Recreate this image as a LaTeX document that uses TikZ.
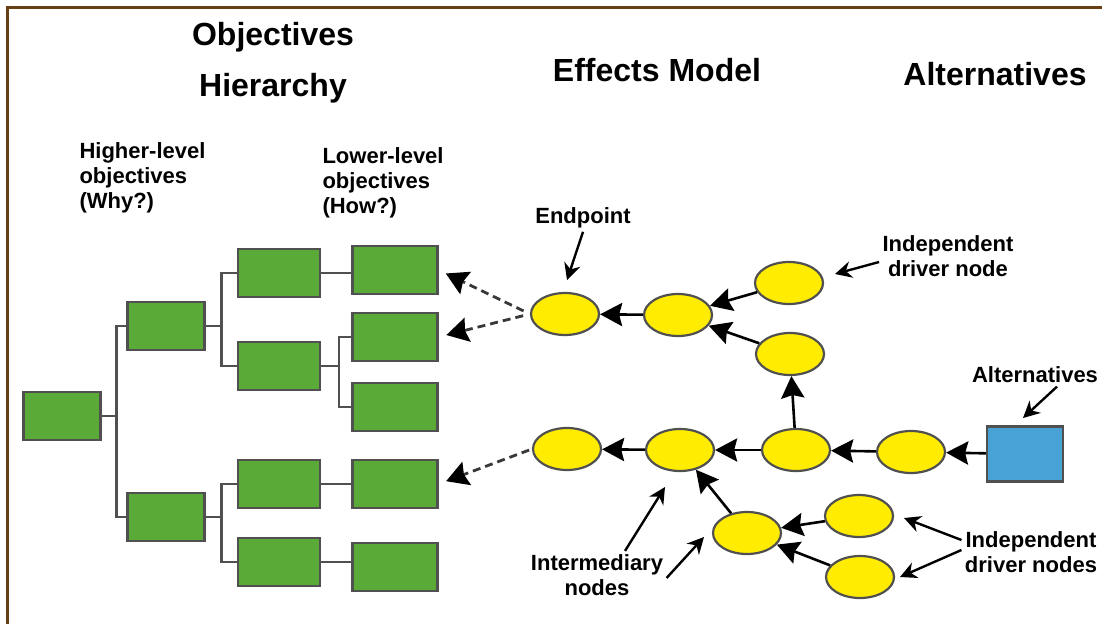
\documentclass[tikz,border=0pt]{standalone}
\usepackage{fontspec}
\setmainfont{Liberation Sans}
\usetikzlibrary{arrows.meta,positioning,shapes.geometric}
\definecolor{boxgreen}{RGB}{90,170,56}
\definecolor{nodeyellow}{RGB}{255,236,0}
\definecolor{altblue}{RGB}{72,162,214}
\definecolor{framebrown}{RGB}{104,64,20}
\definecolor{linegray}{RGB}{80,80,80}
\begin{document}
\begin{tikzpicture}[x=1pt,y=-1pt,
    objbox/.style={draw=linegray,line width=2.2pt,fill=boxgreen,inner sep=0pt,
      minimum width=82pt,minimum height=48pt},
    effnode/.style={ellipse,draw=linegray,line width=2.2pt,fill=nodeyellow,inner sep=0pt,
      minimum width=68pt,minimum height=42pt},
    tree/.style={draw=linegray,line width=2.4pt},
    infl/.style={line width=2.6pt,-{Stealth[scale length=1.5,scale width=2.1,inset=2pt]}},
    link/.style={draw=linegray!70!black,line width=2.8pt,dash pattern=on 8pt off 5pt,
      -{Stealth[scale length=1.4,scale width=2.1,inset=2pt,black]}},
    note/.style={line width=2.4pt,-{Stealth[scale length=1.2,scale width=1.6]}},
    heading/.style={font=\fontsize{32}{51}\selectfont\bfseries,align=center},
    small/.style={font=\fontsize{22}{25}\selectfont\bfseries}]
  \useasboundingbox (0,0) rectangle (1102,624);
  \draw[framebrown,line width=3pt] (7.5,624) -- (7.5,7.5) -- (1102,7.5);

  % headings
  \node[heading] (hObj) at (273,63) {Objectives\\Hierarchy};
  \node[heading] (hEff) at (657,70) {Effects Model};
  \node[heading] (hAlt) at (995,74) {Alternatives};
  \node[small,align=left,anchor=west] (hiLbl) at (76,178) {Higher-level\\objectives\\(Why?)};
  \node[small,align=left,anchor=west] (loLbl) at (319,183) {Lower-level\\objectives\\(How?)};

  % objectives hierarchy
  \node[objbox,minimum width=77pt] (root) at (62,416) {};
  \node[objbox,minimum width=77pt] (hiA) at (166,326) {};
  \node[objbox,minimum width=77pt] (hiB) at (166,517) {};
  \node[objbox] (midA) at (279,273) {};
  \node[objbox] (midB) at (279,366) {};
  \node[objbox] (midC) at (279,484) {};
  \node[objbox] (midD) at (279,562) {};
  \node[objbox,minimum width=85pt] (lowA) at (395,270) {};
  \node[objbox,minimum width=85pt] (lowB) at (395,337) {};
  \node[objbox,minimum width=85pt] (lowC) at (395,407) {};
  \node[objbox,minimum width=85pt] (lowD) at (395,484) {};
  \node[objbox,minimum width=85pt] (lowE) at (395,567) {};
  \draw[tree] (root.east) -- ++(15,0) |- (hiA.west);
  \draw[tree] (root.east) -- ++(15,0) |- (hiB.west);
  \draw[tree] (hiA.east) -- ++(16,0) |- (midA.west);
  \draw[tree] (hiA.east) -- ++(16,0) |- (midB.west);
  \draw[tree] (hiB.east) -- ++(16,0) |- (midC.west);
  \draw[tree] (hiB.east) -- ++(16,0) |- (midD.west);
  \draw[tree] (midA.east) -- (midA.east -| lowA.west);
  \draw[tree] (midB.east) -- ++(18,0) |- (lowB.west);
  \draw[tree] (midB.east) -- ++(18,0) |- (lowC.west);
  \draw[tree] (midC.east) -- (lowD.west);
  \draw[tree] (midD.east) -- (midD.east -| lowE.west);

  % effects model
  \node[effnode] (E1) at (565,314) {};
  \node[effnode] (E2) at (678,315) {};
  \node[effnode] (E3) at (789,283) {};
  \node[effnode] (E4) at (790,354) {};
  \node[effnode] (E5) at (567,449) {};
  \node[effnode] (E6) at (680,450) {};
  \node[effnode] (E7) at (796,450) {};
  \node[effnode] (E8) at (911,452) {};
  \node[effnode] (E9) at (747,533) {};
  \node[effnode] (E10) at (859,516) {};
  \node[effnode] (E11) at (860,577) {};
  \node[draw=linegray,line width=2.2pt,fill=altblue,minimum width=76pt,minimum height=55pt,
    inner sep=0pt] (alt) at (1025,454) {};
  \draw[infl] (E2) -- (E1);
  \draw[infl] (E3) -- (E2);
  \draw[infl] (E4) -- (E2);
  \draw[infl] (E7) -- (E4);
  \draw[infl] (E6) -- (E5);
  \draw[infl] (E7) -- (E6);
  \draw[infl] (E8) -- (E7);
  \draw[infl] (alt) -- (E8);
  \draw[infl] (E9) -- (E6);
  \draw[infl] (E10) -- (E9);
  \draw[infl] (E11) -- (E9);

  % links to the objectives
  \draw[link,shorten <=7pt,shorten >=8pt] (E1.west) -- (lowA.east);
  \draw[link,shorten <=7pt,shorten >=8pt] (E1.west) -- (lowB.east);
  \draw[link,shorten <=3pt,shorten >=8pt] (E5.west) -- (lowD.east);

  % notes
  \node[small] (epLbl) at (583,218) {Endpoint};
  \node[small,align=center] (idLbl) at (948,256) {Independent\\driver node};
  \node[small] (altLbl) at (1035,375) {Alternatives};
  \node[small,align=center] (imLbl) at (597,575) {Intermediary\\nodes};
  \node[small,align=center] (idsLbl) at (1031,552) {Independent\\driver nodes};
  \coordinate (epTip) at (567,280);
  \coordinate (idTip) at (835,274);
  \coordinate (altTip) at (1023,418);
  \coordinate (imTipA) at (665,487);
  \coordinate (imTipB) at (704,537);
  \coordinate (idsTipA) at (904,518);
  \coordinate (idsTipB) at (900,577);
  \draw[note] (epLbl.south) -- (epTip);
  \draw[note] ([yshift=-6pt]idLbl.west) -- (idTip);
  \draw[note] ([xshift=22pt]altLbl.south) -- (altTip);
  \draw[note] ([xshift=28pt]imLbl.north) -- (imTipA);
  \draw[note] ([yshift=-3pt]imLbl.east) -- (imTipB);
  \draw[note] ([yshift=12pt]idsLbl.west) -- (idsTipA);
  \draw[note] ([yshift=2pt]idsLbl.west) -- (idsTipB);
\end{tikzpicture}
\end{document}
